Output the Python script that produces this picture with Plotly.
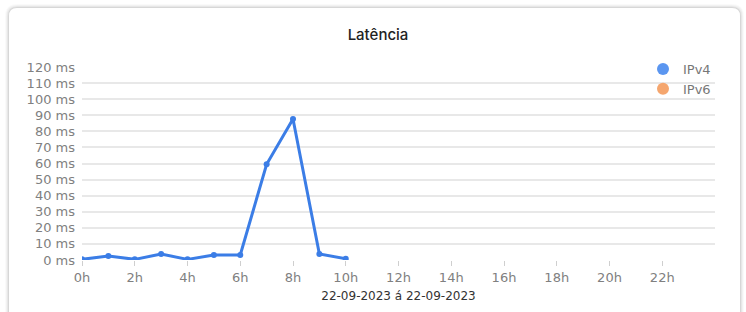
import plotly.graph_objects as go

hours = [0, 1, 2, 3, 4, 5, 6, 7, 8, 9, 10]
ipv4_ms = [0.4, 2.5, 0.4, 3.7, 0.4, 3.1, 3.1, 59.5, 87.7, 3.7, 0.8]
ipv6_ms = []
ipv6_hours = []
tick_vals = [0, 2, 4, 6, 8, 10, 12, 14, 16, 18, 20, 22]
tick_text = ["0h", "2h", "4h", "6h", "8h", "10h", "12h", "14h", "16h", "18h", "20h", "22h"]
y_ticks = [0, 10, 20, 30, 40, 50, 60, 70, 80, 90, 100, 110, 120]
y_tick_text = [f"{v} ms" for v in y_ticks]
title_text = "Latência"
x_title = "22-09-2023 á 22-09-2023"

W, H = 746, 312
L, R, T, B = 82, 31, 67, 52
pw, ph = W - L - R, H - T - B

def px(x):
    return (x - L) / pw

def py(y):
    return 1 - (y - T) / ph

def rounded(x0, y0, x1, y1, r):
    X0, X1 = px(x0), px(x1)
    Y0, Y1 = py(y0), py(y1)
    rx, ry = r / pw, r / ph
    return (f"M {X0+rx},{Y0} L {X1-rx},{Y0} Q {X1},{Y0} {X1},{Y0-ry} "
            f"L {X1},{Y1+ry} Q {X1},{Y1} {X1-rx},{Y1} L {X0+rx},{Y1} "
            f"Q {X0},{Y1} {X0},{Y1+ry} L {X0},{Y0-ry} Q {X0},{Y0} {X0+rx},{Y0} Z")

shapes = []
for i, op in enumerate([0.02, 0.03, 0.045, 0.065]):
    d = 4 - i
    shapes.append(dict(type="path", xref="paper", yref="paper", layer="below",
                       path=rounded(9 - d, 8 - d, 740 + d, 325 + d, 8 + d),
                       fillcolor=f"rgba(0,0,0,{op})", line=dict(width=0)))
shapes.append(dict(type="path", xref="paper", yref="paper", layer="below",
                   path=rounded(9, 8, 740, 325, 8),
                   fillcolor="white", line=dict(width=0)))

FONT = "DejaVu Sans"
blue = "#3b7de6"
fig = go.Figure()
fig.add_trace(go.Scatter(x=hours, y=ipv4_ms, mode="lines+markers", name="IPv4",
                         line=dict(color=blue, width=3), marker=dict(color=blue, size=6),
                         showlegend=False))
fig.add_trace(go.Scatter(x=[None], y=[None], mode="markers", name="IPv4",
                         marker=dict(color="#5b96f0", size=12, symbol="circle")))
fig.add_trace(go.Scatter(x=ipv6_hours if ipv6_hours else [None], y=ipv6_ms if ipv6_ms else [None],
                         mode="markers", name="IPv6",
                         marker=dict(color="#f5a66e", size=12, symbol="circle")))

fig.update_layout(
    width=W, height=H,
    margin=dict(l=L, r=R, t=T, b=B),
    paper_bgcolor="white", plot_bgcolor="rgba(0,0,0,0)",
    shapes=shapes,
    title=dict(text=title_text, x=px(378), xref="paper", xanchor="center",
               y=1 - 35 / H, yanchor="middle",
               font=dict(family="Inter", size=15, color="#222", weight=500)),
    font=dict(family=FONT, size=13, color="#777"),
    legend=dict(x=px(716), xanchor="right", y=py(54), yanchor="top", bgcolor="rgba(0,0,0,0)",
                font=dict(family=FONT, size=13, color="#777"),
                itemsizing="constant", tracegroupgap=0, itemwidth=30),
    xaxis=dict(range=[0, 24], tickvals=tick_vals, ticktext=tick_text, showgrid=False,
               zeroline=False, ticks="outside", ticklen=5, tickcolor="#cfcfcf",
               showline=False, tickfont=dict(family=FONT, color="#808080", size=13),
               title=dict(text=x_title, standoff=8,
                          font=dict(family=FONT, size=12, color="#333"))),
    yaxis=dict(range=[0, 120], tickvals=y_ticks, ticktext=y_tick_text, showgrid=True,
               gridcolor="#e8e8e8", gridwidth=1.5, zeroline=False, showline=False,
               ticklabelstandoff=6, tickfont=dict(family=FONT, color="#808080", size=13)),
)

fig.write_html("out.html", config={"displayModeBar": False},
               post_script="document.body.style.margin='0';")
